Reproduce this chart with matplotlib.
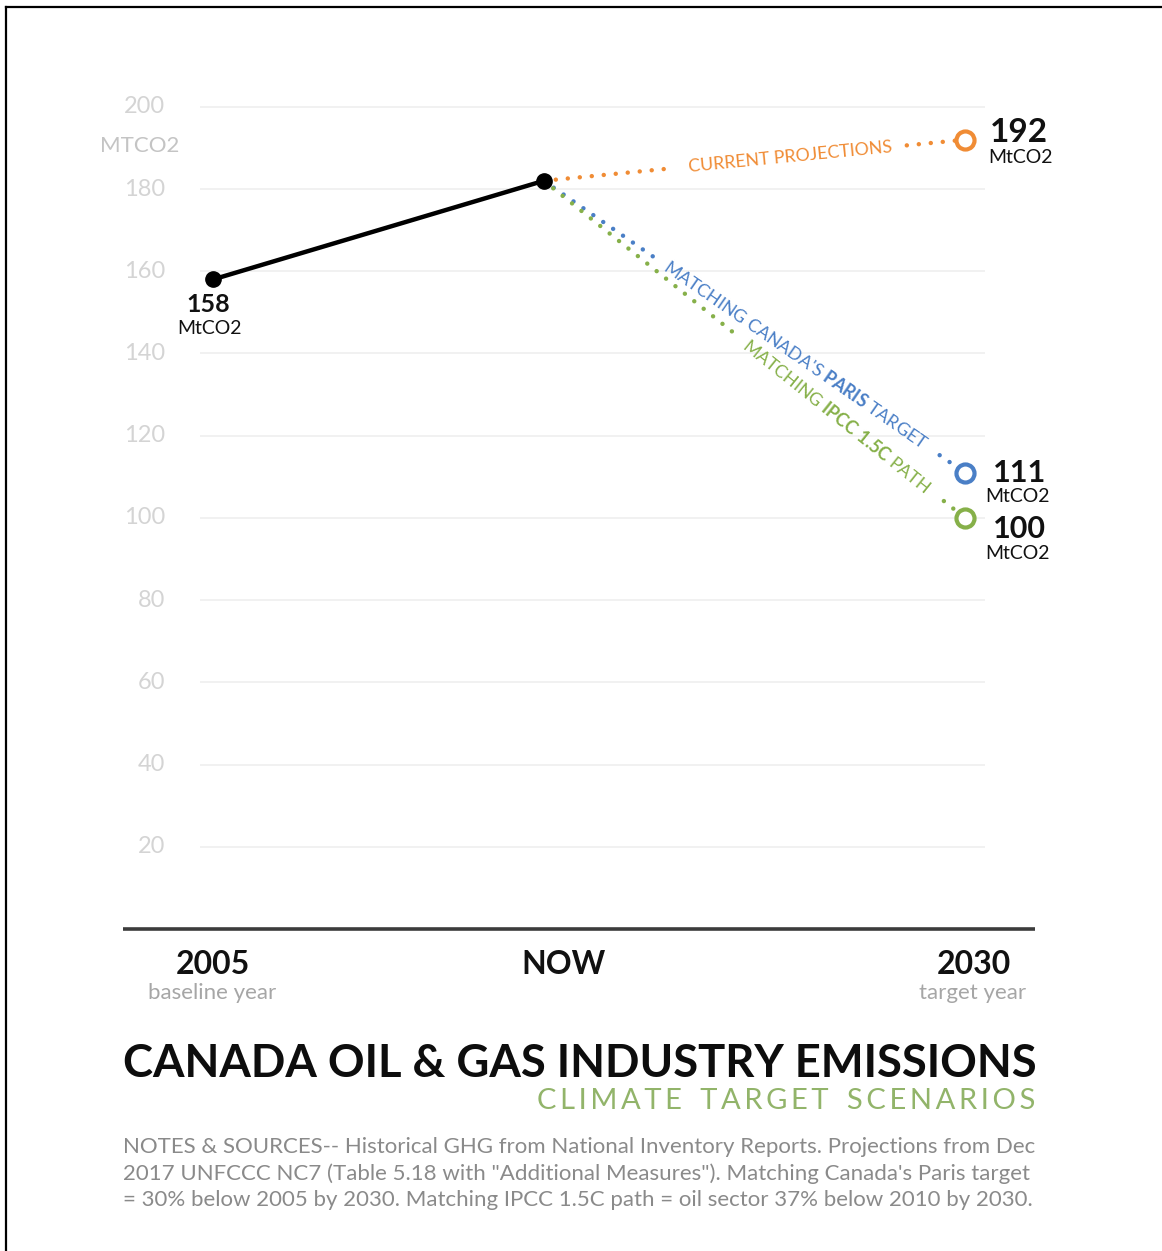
import numpy as np
from matplotlib import pyplot as plt
from matplotlib.lines import Line2D

# data
years = [2005, 2016, 2030]            # 2016 = "NOW"
historic = [158, 182]                  # 2005 baseline -> now
scenario_names = ['current', 'paris', 'ipcc']
scenario_2030 = [192, 111, 100]
scenario_colors = ['#f08c35', '#4a7fc6', '#86b049']
scenario_labels = ['CURRENT PROJECTIONS',
                   r"MATCHING CANADA'S $\mathbf{PARIS}$ TARGET",
                   r'MATCHING $\mathbf{IPCC\ 1.5C}$ PATH']
label_t = [0.585, 0.597, 0.696]        # where the label sits along the path
gaps = [(0.31, 0.862), (0.26, 0.94), (0.45, 0.95)]
yticks = [20, 40, 60, 80, 100, 120, 140, 160, 180, 200]

plt.rcParams['font.family'] = ['Lato', 'DejaVu Sans']
plt.rcParams['mathtext.fontset'] = 'custom'
plt.rcParams['mathtext.rm'] = 'Lato'
plt.rcParams['mathtext.bf'] = 'Lato:bold'

W, H = 1162, 1251
fig = plt.figure(figsize=(W / 100, H / 100), dpi=100)


def fx(px):
    return px / W


def fy(py):
    return 1 - py / H


ax = fig.add_axes([fx(123), fy(929), fx(1035) - fx(123), fy(65.7) - fy(929)])
ax.set_xlim(2002.01, 2032.33)
ax.set_ylim(0, 210)
for s in ['top', 'right', 'left']:
    ax.spines[s].set_visible(False)
ax.spines['bottom'].set_linewidth(2.6)
ax.spines['bottom'].set_color('#3c3c3c')
ax.spines['bottom'].set_capstyle('butt')
ax.set_xticks([])
ax.set_yticks([])

# grid + y labels
ax.hlines(yticks, 2004.57, 2030.66, colors='#efefef', linewidth=1.2, zorder=0)
for v in yticks:
    ax.text(2003.40, v, str(v), ha='right', va='center', fontsize=17,
            color='#d4d4d4')
ax.text(2002.57, 190.5, 'MTCO2', ha='center', va='center', fontsize=16,
        color='#c4c4c4')

# historic line
ax.plot(years[:2], historic, color='black', linewidth=3.2, marker='o',
        markersize=11, solid_capstyle='round', zorder=5)

x0, y0 = years[1], historic[1]
x1 = years[2]
for i in range(3):
    y1 = scenario_2030[i]
    c = scenario_colors[i]
    a, b = gaps[i]
    for t0, t1 in [(0, a), (b, 1)]:
        ax.plot([x0 + t0 * (x1 - x0), x0 + t1 * (x1 - x0)],
                [y0 + t0 * (y1 - y0), y0 + t1 * (y1 - y0)],
                color=c, linewidth=3.2, linestyle=(0, (0.01, 2.7)),
                dash_capstyle='round', zorder=3)
    ax.plot([x1], [y1], marker='o', markersize=13, markerfacecolor='white',
            markeredgecolor=c, markeredgewidth=3, zorder=6)
    p = ax.transData.transform([[x0, y0], [x1, y1]])
    ang = np.degrees(np.arctan2(p[1, 1] - p[0, 1], p[1, 0] - p[0, 0]))
    t = label_t[i]
    ax.text(x0 + t * (x1 - x0), y0 + t * (y1 - y0), scenario_labels[i],
            rotation=ang, rotation_mode='anchor', ha='center', va='center',
            fontsize=12.8, color=c, zorder=4)

# value labels
ax.annotate('158', (years[0], historic[0]), xytext=(-5, -25), textcoords='offset pixels',
            ha='center', va='center', fontsize=18, fontweight='bold', color='#111111')
ax.annotate('MtCO2', (years[0], historic[0]), xytext=(-3, -49), textcoords='offset pixels',
            ha='center', va='center', fontsize=14, color='#111111')
val_off = [(25, 7), (28, 0), (28, -11)]
unit_off = [(23, -18), (20, -24), (20, -36)]
val_size = [24, 22, 22]
for i in range(3):
    ax.annotate(str(scenario_2030[i]), (years[2], scenario_2030[i]), xytext=val_off[i],
                textcoords='offset pixels', ha='left', va='center', fontsize=val_size[i],
                fontweight='bold', color='#111111', annotation_clip=False)
    ax.annotate('MtCO2', (years[2], scenario_2030[i]), xytext=unit_off[i],
                textcoords='offset pixels', ha='left', va='center', fontsize=14,
                color='#111111', annotation_clip=False)

# category labels under the axis
fig.text(fx(213), fy(964), '2005', ha='center', va='center', fontsize=23,
         fontweight='bold', color='#111111')
fig.text(fx(212), fy(993), 'baseline year', ha='center', va='center', fontsize=16,
         color='#a6a6a6')
fig.text(fx(563), fy(964), 'NOW', ha='center', va='center', fontsize=23,
         fontweight='bold', color='#111111')
fig.text(fx(974), fy(964), '2030', ha='center', va='center', fontsize=23,
         fontweight='bold', color='#111111')
fig.text(fx(973), fy(993), 'target year', ha='center', va='center', fontsize=16,
         color='#a6a6a6')

# titles and notes
fig.text(fx(123), fy(1064), 'CANADA OIL & GAS INDUSTRY EMISSIONS', ha='left', va='center',
         fontsize=32.7, fontweight='bold', color='#0d0d0d')
subtitle = '\u2009 \u2009\u2009'.join('\u2009'.join(w) for w in 'CLIMATE TARGET SCENARIOS'.split())
fig.text(fx(1035), fy(1101), subtitle, ha='right', va='center', fontsize=21,
         color='#92b46a')
notes = ['NOTES & SOURCES-- Historical GHG from National Inventory Reports. Projections from Dec',
         '2017 UNFCCC NC7 (Table 5.18 with "Additional Measures"). Matching Canada\'s Paris target',
         '= 30% below 2005 by 2030. Matching IPCC 1.5C path = oil sector 37% below 2010 by 2030.']
for k, line in enumerate(notes):
    fig.text(fx(123), fy(1147 + 26.5 * k), line, ha='left', va='center', fontsize=16,
             color='#8a8a8a')

# frame
fig.add_artist(Line2D([fx(6), fx(6)], [0, fy(7)], color='black', linewidth=1.6))
fig.add_artist(Line2D([fx(6), 1], [fy(7), fy(7)], color='black', linewidth=1.6))

fig.savefig('out.png', dpi=100)
